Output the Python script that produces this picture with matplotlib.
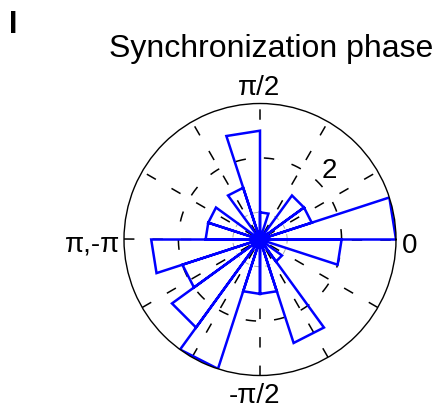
import numpy as np
import matplotlib
matplotlib.use("Agg")
import matplotlib.pyplot as plt

plt.rcParams["font.family"] = ["Liberation Sans", "DejaVu Sans"]
plt.rcParams["lines.scale_dashes"] = False

# rose histogram: 20 bins of 18 deg starting at 0
bin_edges_deg = np.arange(0, 361, 18)
counts = [5, 2, 2, 0, 1, 4, 2, 0, 2, 2, 4, 3, 4, 5, 2, 2, 4, 1, 0, 3]
rmax = 5
ring_grey = 1
ring_dashed = 3
spoke_deg = np.arange(0, 180, 30)

W, H = 437, 409
fig = plt.figure(figsize=(W / 100, H / 100), dpi=100)
cx, cy, R = 260, 239.5, 136
ax = fig.add_axes([(cx - R) / W, (H - cy - R) / H, 2 * R / W, 2 * R / H],
                  projection="polar")
ax.set_ylim(0, rmax)
ax.set_xticks([])
ax.set_yticks([])
ax.grid(False)
ax.spines["polar"].set_linewidth(1.0)
ax.spines["polar"].set_color("black")

dash = (0, (7.5, 13))
full = np.linspace(0, 2 * np.pi, 400)
ax.plot(full, np.full_like(full, ring_dashed), color="black", lw=1.1, ls=dash)
ax.plot(full, np.full_like(full, ring_grey), color="#aaaaaa", lw=0.7, ls=(0, (4, 4)))
for d in spoke_deg:
    t = np.deg2rad(d)
    ax.plot([t + np.pi, t + np.pi, t, t], [rmax, 0, 0, rmax], color="black", lw=1.1, ls=dash)

# rose outline like MATLAB rose()
th, rr = [], []
for i, c in enumerate(counts):
    lo, hi = np.deg2rad(bin_edges_deg[i]), np.deg2rad(bin_edges_deg[i + 1])
    th += [lo, lo, hi, hi]
    rr += [0, c, c, 0]
ax.plot(th, rr, color="#0000ff", lw=1.8, solid_joinstyle="miter")

ax.text(np.deg2rad(44.8), 3.57, "2", fontsize=20, ha="center", va="center")


def px(x, y):
    return x / W, 1 - y / H


fig.text(*px(13.5, 33), "I", fontsize=22, fontweight="bold", ha="center", va="baseline")
fig.text(*px(271, 57), "Synchronization phase", fontsize=23, ha="center", va="baseline")
fig.text(*px(259, 95), "π/2", fontsize=20, ha="center", va="baseline")
fig.text(*px(254, 403), "-π/2", fontsize=20, ha="center", va="baseline")
fig.text(*px(93, 252), "π,-π", fontsize=20, ha="center", va="baseline")
fig.text(*px(410, 253), "0", fontsize=20, ha="center", va="baseline")

fig.savefig("out.png", dpi=100)
